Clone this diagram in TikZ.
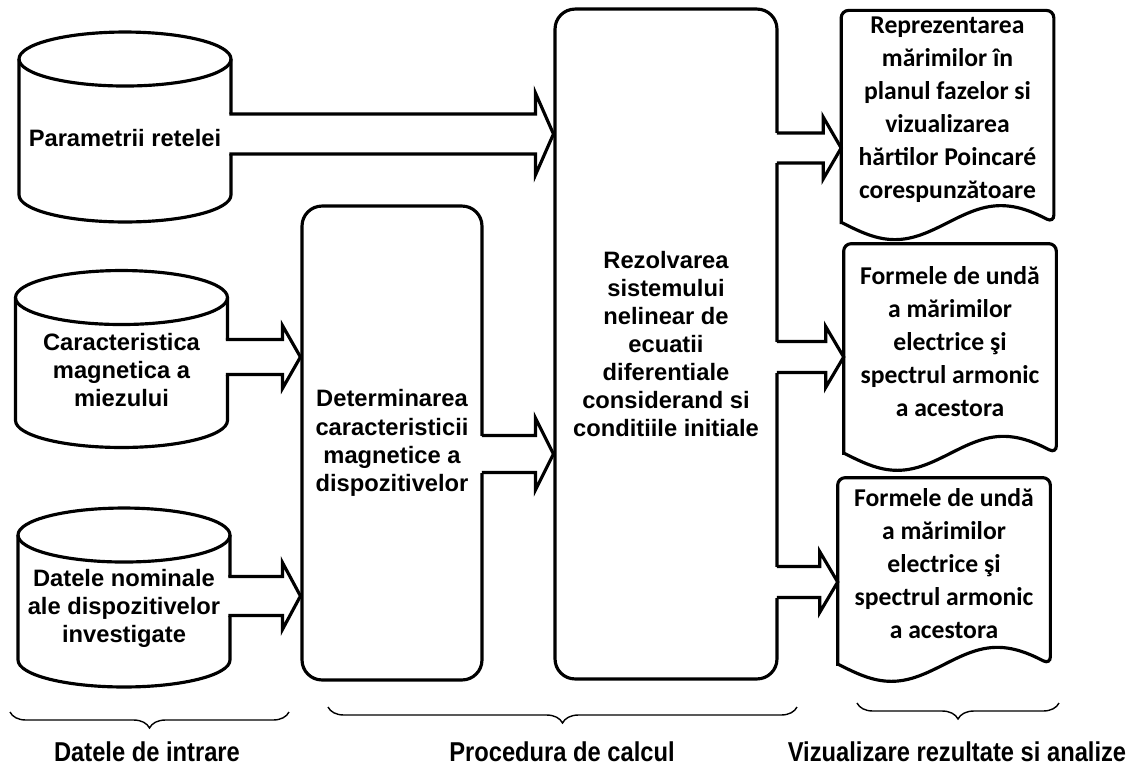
\documentclass[tikz,border=0pt]{standalone}
\usepackage{fontspec}
\setmainfont{Liberation Sans}
\newfontfamily\docfont{Carlito}
\usetikzlibrary{calc,decorations.pathreplacing}

\tikzset{
  base/.style={draw, line width=1.8pt, align=center, font=\bfseries\fontsize{13.5}{16}\selectfont},
  datab/.style={align=center, font=\bfseries\fontsize{13.5}{16}\selectfont, minimum width=4.24cm, outer sep=0pt},
  proc/.style={base, rectangle, rounded corners=0.4cm},
  doctext/.style={align=center, font=\docfont\bfseries\fontsize{14.6}{18.8}\selectfont, minimum width=4.24cm},
  fat/.style={line width=1.8pt, line join=miter},
  brc/.style={decorate, decoration={brace, mirror, amplitude=0.32cm}, line width=0.8pt},
  lbl/.style={font=\bfseries\fontsize{13.5}{16}\selectfont}
}

% sageata groasa: de la, la, y, semi-latime corp, semi-latime varf
\newcommand{\fatarrow}[5]{%
  \coordinate (s) at (#1.east |- 0,#3);
  \coordinate (t) at (#2.west |- 0,#3);
  \fill[white] ($(s)+(-7,-#4)$) rectangle ($(t)+(-18,#4)$);
  \draw[fat] ($(s)+(-1.6,-#4)$) -- ($(t)+(-18,-#4)$) -- ($(t)+(-18,-#5)$) -- (t)
    -- ($(t)+(-18,#5)$) -- ($(t)+(-18,#4)$) -- ($(s)+(-1.6,#4)$);
}

% contur cilindru
\newcommand{\cylout}[1]{%
  \draw[fat] ($(#1.north west)+(0,5)$) -- ($(#1.south west)+(0,-27)$)
    arc[start angle=180, end angle=360, x radius=2.12cm, y radius=0.54cm]
    -- ($(#1.north east)+(0,5)$);
  \draw[fat] ($(#1.north)+(0,5)$) ellipse [x radius=2.12cm, y radius=0.54cm];
}

% contur document
\newcommand{\docout}[1]{%
  \draw[fat, rounded corners=0.15cm] ([yshift=-0.28cm]#1.south west) -- (#1.north west)
    -- (#1.north east) -- ([yshift=-0.28cm]#1.south east) [sharp corners]
    sin ++(-53,-17) cos ++(-53,17) sin ++(-53,17) cos ++(-53,-17) -- cycle;
}

\begin{document}
\begin{tikzpicture}[x=0.02cm, y=-0.02cm]
    \useasboundingbox (0,0) rectangle (1135,765);

    %%%%%%%%%% Date de intrare %%%%%%%%%%
    \node[datab, minimum height=3.36cm] (par) at (125,138) {Parametrii retelei};
    \node[datab, minimum height=3.1cm] (mag) at (121.5,370) {Caracteristica\\magnetica a\\miezului};
    \node[datab, minimum height=3.14cm] (nom) at (124,608.5) {Datele nominale\\ale dispozitivelor\\investigate};
    \cylout{par}
    \cylout{mag}
    \cylout{nom}

    %%%%%%%%%% Procedura %%%%%%%%%%
    \node[proc, minimum width=3.6cm, minimum height=9.48cm] (det) at (392,443)
        {Determinarea\\caracteristicii\\magnetice a\\dispozitivelor};
    \node[proc, minimum width=4.44cm, minimum height=13.4cm] (calc) at (666,344)
        {Rezolvarea\\sistemului\\nelinear de\\ecuatii\\diferentiale\\considerand si\\conditiile initiale};

    %%%%%%%%%% Rezultate %%%%%%%%%%
    \node[doctext, minimum height=3.9cm] (viz1) at (947.5,109.5)
        {Reprezentarea\\mărimilor în\\planul fazelor si\\vizualizarea\\hărtilor Poincaré\\corespunzătoare};
    \node[doctext, minimum height=3.9cm] (viz2) at (950,341.5)
        {Formele de undă\\a mărimilor\\electrice şi\\spectrul armonic\\a acestora};
    \node[doctext, minimum height=3.44cm] (viz3) at (944,564)
        {Formele de undă\\a mărimilor\\electrice şi\\spectrul armonic\\a acestora};
    \docout{viz1}
    \docout{viz2}
    \docout{viz3}

    %%%%%%%%%% Sageti %%%%%%%%%%
    \fatarrow{par}{calc}{134}{20}{41}
    \fatarrow{mag}{det}{357}{17.5}{31.5}
    \fatarrow{nom}{det}{596}{19.5}{33.5}
    \fatarrow{det}{calc}{454}{18.5}{36}
    \fatarrow{calc}{viz1}{148}{15}{31}
    \fatarrow{calc}{viz2}{357}{15.5}{30.5}
    \fatarrow{calc}{viz3}{582}{15.5}{30.5}

    %%%%%%%%%% Acolade %%%%%%%%%%
    \draw[brc] (10,712) -- (289,712);
    \draw[brc] (328,707) -- (797,707);
    \draw[brc] (857,703) -- (1059,703);
    \node[lbl] (lin) at (147,752) {\scalebox{1}[1.15]{Datele de intrare}};
    \node[lbl] (lproc) at (562,752) {\scalebox{1}[1.15]{Procedura de calcul}};
    \node[lbl] (lviz) at (957,752) {\scalebox{1}[1.15]{Vizualizare rezultate si analize}};
\end{tikzpicture}
\end{document}
